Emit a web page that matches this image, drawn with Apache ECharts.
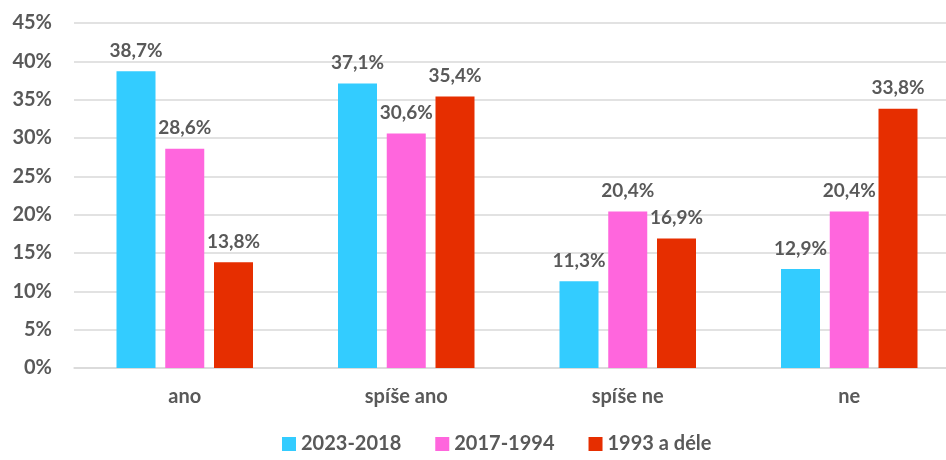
<!DOCTYPE html>
<html>
<head>
<meta charset="utf-8">
<script src="https://cdn.jsdelivr.net/npm/echarts@6/dist/echarts.min.js"></script>
<style>
  html, body { margin: 0; padding: 0; background: #fff; }
  #chart { width: 946px; height: 460px; }
</style>
</head>
<body>
<div id="chart"></div>
<script>
var categories = ['ano', 'spíše ano', 'spíše ne', 'ne'];
var seriesNames = ['2023-2018', '2017-1994', '1993 a déle'];
var gen2023 = [38.7, 37.1, 11.3, 12.9];
var gen2017 = [28.6, 30.6, 20.4, 20.4];
var gen1993 = [13.8, 35.4, 16.9, 33.8];
var colors = ['#33ccff', '#ff66dd', '#e62e00'];

var font = 'Lato, "Open Sans", sans-serif';
var txt = '#595959';

function mk(name, data, color) {
    return {
        name: name,
        type: 'bar',
        data: data,
        barWidth: 39,
        barGap: '25%',
        itemStyle: { color: color },
        label: {
            show: true,
            position: 'top',
            distance: 11,
            color: txt,
            fontFamily: font,
            fontWeight: 'bold',
            fontSize: 19,
            formatter: function (p) {
                return p.value.toFixed(1).replace('.', ',') + '%';
            }
        }
    };
}

var chart = echarts.init(document.getElementById('chart'));
var option = {
    animation: false,
    grid: { left: 74, width: 886, top: 23, bottom: 92, outerBoundsMode: 'none' },
    legend: {
        left: 277,
        bottom: 1,
        itemWidth: 14,
        itemHeight: 14,
        itemGap: 34,
        icon: 'rect',
        textStyle: { color: txt, fontFamily: font, fontWeight: 'bold', fontSize: 20 },
        data: seriesNames
    },
    xAxis: {
        type: 'category',
        data: categories,
        axisTick: { show: false },
        axisLine: { lineStyle: { color: '#d9d9d9', width: 1.5 } },
        axisLabel: { color: txt, fontFamily: font, fontWeight: 'bold', fontSize: 20, margin: 19 }
    },
    yAxis: {
        type: 'value',
        min: 0,
        max: 45,
        interval: 5,
        axisLabel: {
            color: txt, fontFamily: font, fontWeight: 'bold', fontSize: 20, margin: 22,
            formatter: '{value}%'
        },
        splitLine: { lineStyle: { color: '#d9d9d9', width: 1.5 } }
    },
    series: [
        mk(seriesNames[0], gen2023, colors[0]),
        mk(seriesNames[1], gen2017, colors[1]),
        mk(seriesNames[2], gen1993, colors[2])
    ]
};
chart.setOption(option);
</script>
</body>
</html>
